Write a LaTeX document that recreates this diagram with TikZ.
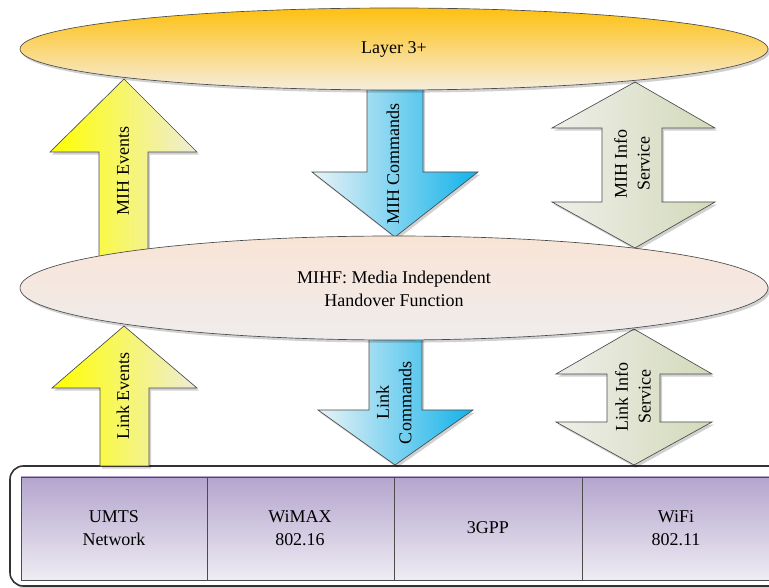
\documentclass[tikz,border=0pt]{standalone}
\usepackage{fontspec}
\setmainfont{Liberation Serif}
\usetikzlibrary{shapes.geometric,shadows}
\definecolor{lthree1}{RGB}{254,192,16}
\definecolor{lthree2}{RGB}{246,238,222}
\definecolor{mihf1}{RGB}{248,228,214}
\definecolor{mihf2}{RGB}{240,236,236}
\definecolor{yelL}{RGB}{255,255,0}
\definecolor{yelR}{RGB}{238,236,215}
\definecolor{bluL}{RGB}{234,243,246}
\definecolor{bluR}{RGB}{18,178,234}
\definecolor{grnL}{RGB}{239,238,233}
\definecolor{grnR}{RGB}{210,218,186}
\definecolor{cell1}{RGB}{180,165,206}
\definecolor{cell2}{RGB}{238,236,243}
\begin{document}
\begin{tikzpicture}[x=0.75pt,y=-0.75pt,
  every node/.style={font=\fontsize{13.5}{17}\selectfont, text=black},
  outl/.style={draw=black!70, line width=0.5pt},
  shad/.style={drop shadow={opacity=0.18, shadow xshift=1.5pt, shadow yshift=-2pt, fill=black}},
  yarrow/.style={outl, left color=yelL, right color=yelR, shad},
  barrow/.style={outl, left color=bluL, right color=bluR, shad},
  garrow/.style={outl, left color=grnL, right color=grnR, shad},
  cellbox/.style={draw=black!70, line width=0.6pt, top color=cell1, bottom color=cell2},
  vtext/.style={rotate=90, align=center, inner sep=0pt},
  ctext/.style={align=center, inner sep=0pt}
]
\useasboundingbox (0,0) rectangle (769,588);
\clip (0,0) rectangle (769,588);
% bottom container
\draw[draw=black!80, line width=1.2pt, rounded corners=10pt, fill=white, shad] (10,466) rectangle (782,586);
\draw[cellbox] (21,477) rectangle (207,580);
\draw[cellbox] (207,477) rectangle (394,580);
\draw[cellbox] (394,477) rectangle (582,580);
\draw[cellbox] (582,477) rectangle (772,580);
\node[ctext] (umts) at (114,528) {UMTS\\Network};
\node[ctext] (wimax) at (300,528) {WiMAX\\802.16};
\node[ctext] (tgpp) at (488,528) {3GPP};
\node[ctext] (wifi) at (676,528) {WiFi\\802.11};
% arrows between Layer 3+ and MIHF
\draw[yarrow] (99,257) -- (99,152) -- (50,152) -- (124,79) -- (197,152) -- (148,152) -- (148,257) -- cycle;
\draw[barrow] (367,86) -- (367,172) -- (312,172) -- (395,237) -- (478,172) -- (423,172) -- (423,86) -- cycle;
\draw[garrow] (635,82) -- (715,128) -- (662,128) -- (662,202) -- (715,202) -- (635,248) -- (552,202) -- (602,202) -- (602,128) -- (552,128) -- cycle;
% arrows between MIHF and links
\draw[yarrow] (100,466) -- (100,388) -- (52,388) -- (124,326) -- (197,388) -- (149,388) -- (149,466) -- cycle;
\draw[barrow] (369,334) -- (369,410) -- (318,410) -- (395,465) -- (473,410) -- (422,410) -- (422,334) -- cycle;
\draw[garrow] (634,329) -- (712,374) -- (660,374) -- (660,422) -- (712,422) -- (634,465) -- (556,422) -- (607,422) -- (607,374) -- (556,374) -- cycle;
% ellipses
\node[ellipse, outl, top color=lthree1, bottom color=lthree2, minimum width=561pt, minimum height=61.5pt, inner sep=0pt, shad] (l3) at (394,49) {};
\node[ctext] (l3t) at (394,49) {Layer 3+};
\node[ellipse, outl, top color=mihf1, bottom color=mihf2, minimum width=561pt, minimum height=78pt, inner sep=0pt, shad] (mihf) at (394,288) {};
\node[ctext] (mihft) at (394,289) {MIHF: Media Independent\\Handover Function};
% arrow labels
\node[vtext] (mihev) at (123,171) {MIH Events};
\node[vtext] (mihcmd) at (393,164) {MIH Commands};
\node[vtext] (mihis) at (632,164) {MIH Info\\Service};
\node[vtext] (lnkev) at (123,396) {Link Events};
\node[vtext] (lnkcmd) at (394,403) {Link\\Commands};
\node[vtext] (lnkis) at (633,397) {Link Info\\Service};
\end{tikzpicture}
\end{document}
